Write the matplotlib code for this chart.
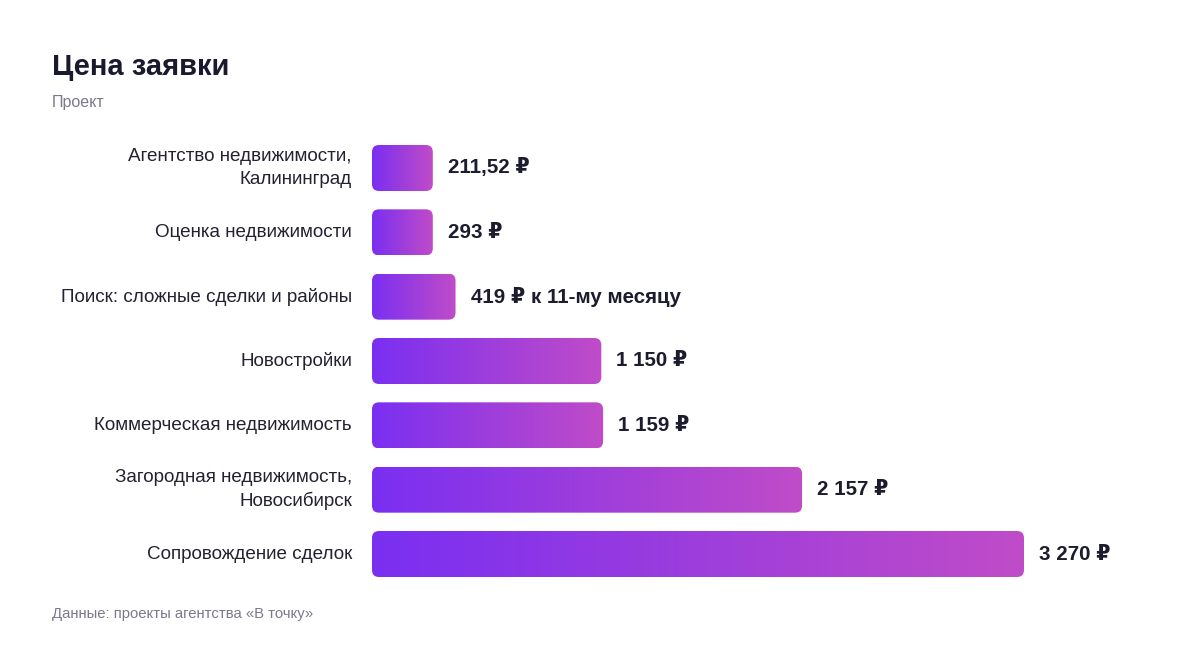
import matplotlib
matplotlib.use("Agg")
import matplotlib.pyplot as plt
import numpy as np
from matplotlib.patches import FancyBboxPatch
from matplotlib.colors import to_rgb

plt.rcParams['font.family'] = ['Liberation Sans', 'DejaVu Sans']

title = "Цена заявки"
subtitle = "Проект"
footer = "Данные: проекты агентства «В точку»"
categories = [
    "Агентство недвижимости,\nКалининград",
    "Оценка недвижимости",
    "Поиск: сложные сделки и районы",
    "Новостройки",
    "Коммерческая недвижимость",
    "Загородная недвижимость,\nНовосибирск",
    "Сопровождение сделок",
]
values = [211.52, 293, 419, 1150, 1159, 2157, 3270]
value_labels = ["211,52 ₽", "293 ₽", "419 ₽ к 11-му месяцу", "1 150 ₽",
                "1 159 ₽", "2 157 ₽", "3 270 ₽"]

MIN_BAR = 305  # minimal drawn bar length (style)
W, H = 1200, 648
fig = plt.figure(figsize=(W / 100, H / 100), dpi=100)
fig.patch.set_facecolor("white")

bar_h = 0.715
n = len(values)
ax_left, ax_right = 372, 1024
ax_top, ax_bot = 145, 577
ax = fig.add_axes([ax_left / W, 1 - ax_bot / H, (ax_right - ax_left) / W, (ax_bot - ax_top) / H])
xmax = max(values)
ax.set_xlim(0, xmax)
ax.set_ylim(n - 1 + bar_h / 2, -bar_h / 2)
ax.axis("off")

px_per_x = (ax_right - ax_left) / xmax
px_per_y = (ax_bot - ax_top) / (n - 1 + bar_h)
r_px = 7
rx = r_px / px_per_x
aspect = (r_px / px_per_y) / rx

c0 = np.array(to_rgb("#7a2ff1"))
c1 = np.array(to_rgb("#c04cc8"))
grad = np.linspace(0, 1, 256)[None, :, None]
img = c0[None, None, :] * (1 - grad) + c1[None, None, :] * grad

text_color = "#1c1c2e"
for i, (v, lab, cat) in enumerate(zip(values, value_labels, categories)):
    w = max(v, MIN_BAR)
    patch = FancyBboxPatch((0, i - bar_h / 2), w, bar_h,
                           boxstyle=f"round,pad=0,rounding_size={rx}",
                           mutation_aspect=aspect, facecolor="none", edgecolor="none")
    ax.add_patch(patch)
    im = ax.imshow(img, extent=[0, w, i + bar_h / 2, i - bar_h / 2], aspect="auto",
                   interpolation="bilinear")
    im.set_clip_path(patch)
    ax.text(w + 15 / px_per_x, i, lab, ha="left", va="center", fontsize=14.8,
            fontweight="bold", color=text_color, clip_on=False)
    ax.text(-20 / px_per_x, i, cat, ha="right", va="center", fontsize=13.6,
            color="#222230", clip_on=False, linespacing=1.42)

ax.set_xlim(0, xmax)
ax.set_ylim(n - 1 + bar_h / 2, -bar_h / 2)

fig.text(52 / W, 1 - 67 / H, title, fontsize=21, fontweight="bold", color="#1a1a2e",
         ha="left", va="center")
fig.text(52 / W, 1 - 102 / H, subtitle, fontsize=11.5, color="#7a7a8c", ha="left", va="center")
fig.text(52 / W, 1 - 614 / H, footer, fontsize=10.7, color="#7a7a8c", ha="left", va="center")

fig.savefig("out.png", dpi=100, facecolor="white")
